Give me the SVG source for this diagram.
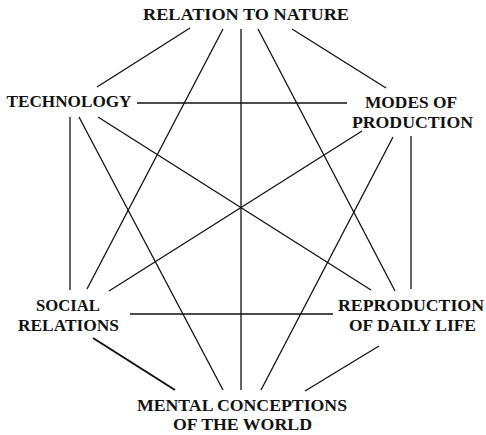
<svg xmlns="http://www.w3.org/2000/svg" width="486" height="435" viewBox="0 0 486 435">
<style>
text{font-family:"Liberation Serif","Times New Roman",serif;font-weight:bold;font-size:16px;fill:#111;text-anchor:middle}
.c line{stroke:#111;stroke-width:1.3;fill:none}
</style>
<rect width="486" height="435" fill="#fff"/>
<g class="c" id="connectors">
<line x1="190" y1="28" x2="97" y2="87"/>
<line x1="223" y1="29" x2="87" y2="289"/>
<line x1="241" y1="29" x2="241" y2="390"/>
<line x1="258" y1="29" x2="395" y2="291"/>
<line x1="292" y1="29" x2="386" y2="88"/>
<line x1="137" y1="103" x2="347" y2="103"/>
<line x1="70" y1="117" x2="70" y2="290"/>
<line x1="79" y1="117" x2="223" y2="390"/>
<line x1="98" y1="117" x2="371" y2="290"/>
<line x1="362" y1="131" x2="109" y2="291"/>
<line x1="393" y1="137" x2="261" y2="390"/>
<line x1="411" y1="136" x2="411" y2="289"/>
<line x1="130" y1="314" x2="333" y2="314"/>
<line x1="93" y1="338" x2="175" y2="390" style="stroke-width:2"/>
<line x1="379" y1="346" x2="305" y2="391"/>
</g>
<g id="nature"><text x="246" y="20" textLength="206" lengthAdjust="spacingAndGlyphs">RELATION TO NATURE</text></g>
<g id="technology"><text x="69" y="107" textLength="125" lengthAdjust="spacingAndGlyphs">TECHNOLOGY</text></g>
<g id="production"><text x="411" y="108" textLength="92" lengthAdjust="spacingAndGlyphs">MODES OF</text><text x="412.5" y="128" textLength="121" lengthAdjust="spacingAndGlyphs">PRODUCTION</text></g>
<g id="social"><text x="68" y="311" textLength="64" lengthAdjust="spacingAndGlyphs">SOCIAL</text><text x="68.5" y="331" textLength="101" lengthAdjust="spacingAndGlyphs">RELATIONS</text></g>
<g id="reproduction"><text x="411" y="311" textLength="146" lengthAdjust="spacingAndGlyphs">REPRODUCTION</text><text x="412.5" y="331" textLength="127" lengthAdjust="spacingAndGlyphs">OF DAILY LIFE</text></g>
<g id="mental"><text x="242" y="411" textLength="210" lengthAdjust="spacingAndGlyphs">MENTAL CONCEPTIONS</text><text x="242.5" y="430" textLength="139" lengthAdjust="spacingAndGlyphs">OF THE WORLD</text></g>
</svg>
